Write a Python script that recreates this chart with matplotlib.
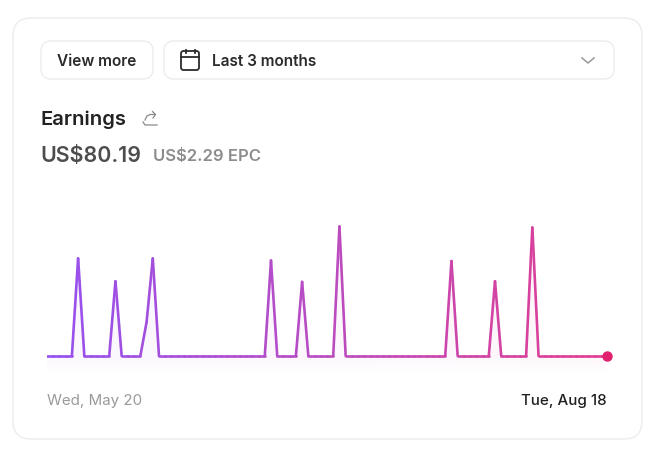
import numpy as np
import matplotlib
matplotlib.use('Agg')
import matplotlib.pyplot as plt
from matplotlib.collections import LineCollection
from matplotlib.colors import LinearSegmentedColormap
from matplotlib.patches import FancyBboxPatch

# daily earnings, May 20 to Aug 18
days = 91
spike_days = [5, 11, 16, 17, 36, 41, 47, 65, 72, 78]
spike_values = [8.69, 6.65, 3.0, 8.69, 8.5, 6.6, 11.53, 8.45, 6.65, 11.44]

title = 'Earnings'
total = 'US$80.19'
epc = 'US$2.29 EPC'
button_label = 'View more'
range_label = 'Last 3 months'
start_label = 'Wed, May 20'
end_label = 'Tue, Aug 18'

plt.rcParams['font.family'] = ['Inter', 'DejaVu Sans']

earnings = np.zeros(days)
earnings[spike_days] = spike_values
x = np.arange(days)

fig = plt.figure(figsize=(6.56, 4.5), dpi=100)
W, H = 656, 450

# page layer in pixel coordinates
ui = fig.add_axes([0, 0, 1, 1])
ui.set_xlim(0, W)
ui.set_ylim(H, 0)
ui.axis('off')


def box(x0, y0, x1, y1, r, color='#ececec', lw=1.0):
    ui.add_patch(FancyBboxPatch((x0 + r, y0 + r), x1 - x0 - 2*r, y1 - y0 - 2*r,
                                boxstyle='round,pad=%d,rounding_size=%d' % (r, r),
                                fc='white', ec=color, lw=lw))


box(13, 18, 642, 439, 18, lw=1.0)
box(41, 41, 153, 79, 10)
box(164, 41, 614, 79, 10)

ui.text(97, 61.5, button_label, ha='center', va='center', fontsize=11.1, color='#2b2b2b', fontweight='semibold')
ui.text(212, 61.5, range_label, ha='left', va='center', fontsize=11, color='#2b2b2b', fontweight='semibold')
ui.text(40.5, 119.5, title, ha='left', va='center', fontsize=14.6, color='#222222', fontweight='semibold')
ui.text(40, 156.5, total, ha='left', va='center', fontsize=15.4, color='#4d4d4d', fontweight='semibold')
ui.text(153, 157, epc, ha='left', va='center', fontsize=12, color='#8c8c8c', fontweight='semibold')
ui.text(47, 401, start_label, ha='left', va='center', fontsize=10.9, color='#9a9a9a')
ui.text(607, 401, end_label, ha='right', va='center', fontsize=10.9, color='#1f1f1f', fontweight='medium')

# calendar icon
ui.add_patch(FancyBboxPatch((183, 53), 14, 15, boxstyle='round,pad=2,rounding_size=2.5',
                            fc='none', ec='#2b2b2b', lw=1.3))
ui.plot([181, 199], [56.5, 56.5], color='#2b2b2b', lw=1.3)
ui.plot([185.5, 185.5], [49.5, 53], color='#2b2b2b', lw=1.3)
ui.plot([194.5, 194.5], [49.5, 53], color='#2b2b2b', lw=1.3)

# dropdown chevron
ui.plot([582, 588, 594], [58, 63, 58], color='#a0a0a0', lw=1.2)

# share icon
ui.plot([143, 145, 152, 157], [122, 125, 125, 125], color='#8a8a8a', lw=0.9)
ui.plot([145, 147, 150, 155], [120, 116, 114.5, 114.5], color='#8a8a8a', lw=0.9)
ui.plot([152.5, 155.5, 153], [111.5, 114.5, 118], color='#8a8a8a', lw=0.9)

# chart layer, y pixels 226..376 with zero at 356
left, right = 47, 607
bottom, top = 376, 216
chart = fig.add_axes([left/W, 1 - bottom/H, (right - left)/W, (bottom - top)/H])
chart.patch.set_alpha(0)
chart.axis('off')
px = earnings.max() / (356 - 226.5)
chart.set_xlim(0, days - 1)
chart.set_ylim(-20*px, 140*px)

cmap = LinearSegmentedColormap.from_list('earn', ['#9650ee', '#ba4cc0', '#e23d92'])

# faint fill below the line
fill = chart.fill_between(x, earnings, -20*px, color='none')
fade = np.ones((160, 256, 4))
rgb = cmap(np.linspace(0, 1, 256))[:, :3]
fade[:, :, :3] = rgb[None, :, :]
rows = np.linspace(140*px, -20*px, 160)
fade[:, :, 3] = np.interp(rows, [-20*px, 0, 140*px], [0.0, 0.045, 0.06])[:, None]
img = chart.imshow(fade, extent=[0, days - 1, -20*px, 140*px], aspect='auto', zorder=1)
img.set_clip_path(fill.get_paths()[0], chart.transData)

points = np.column_stack([x, earnings])
segments = np.stack([points[:-1], points[1:]], axis=1)
lines = LineCollection(segments, colors=cmap(np.linspace(0, 1, days - 1)), linewidths=1.9,
                       capstyle='round', zorder=2)
chart.add_collection(lines)
chart.plot(x[-1], earnings[-1], 'o', ms=7.5, color='#e0206f', mec='none', clip_on=False, zorder=3)

fig.savefig('out.png', dpi=100)
